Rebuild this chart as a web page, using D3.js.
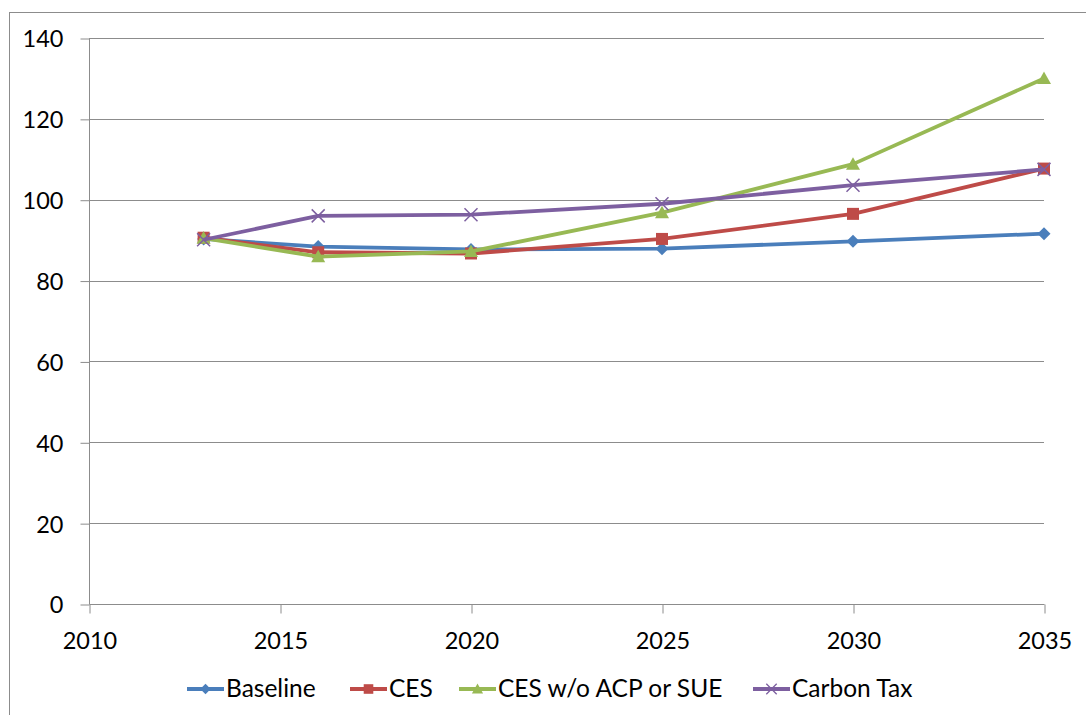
<!DOCTYPE html>
<html><head><meta charset="utf-8">
<script src="https://cdn.jsdelivr.net/npm/d3@7"></script>
<style>body{margin:0;background:#fff}svg{display:block}text{font-family:Lato,"Open Sans",sans-serif;fill:#000}</style>
</head><body>
<script>
const years = [2013, 2016, 2020, 2025, 2030, 2035];
const seriesNames = ["Baseline", "CES", "CES w/o ACP or SUE", "Carbon Tax"];
const baseline = [90.3, 88.4, 87.7, 87.9, 89.7, 91.6];
const ces = [90.6, 87.0, 86.7, 90.3, 96.5, 107.7];
const cesNoAcp = [90.5, 85.9, 87.2, 96.8, 108.8, 130.0];
const carbonTax = [90.1, 96.0, 96.3, 99.0, 103.6, 107.5];
const xTicks = [2010, 2015, 2020, 2025, 2030, 2035];
const yTicks = [0, 20, 40, 60, 80, 100, 120, 140];
const colors = ["#4A7EBB", "#BE4B48", "#98B954", "#7D5FA0"];
const markers = ["diamond", "square", "triangle", "x"];
const seriesValues = [baseline, ces, cesNoAcp, carbonTax];

const W = 1086, H = 715;
const svg = d3.select("body").append("svg").attr("width", W).attr("height", H);
svg.append("rect").attr("x", 9.5).attr("y", 12.5).attr("width", 1100).attr("height", 750)
  .attr("fill", "none").attr("stroke", "#8c8c8c").attr("stroke-width", 1);

const x = d3.scaleLinear().domain([2010, 2035]).range([89, 1044]);
const y = d3.scaleLinear().domain([0, 140]).range([604, 38]);

// gridlines
svg.append("g").selectAll("line").data(yTicks.filter(d => d > 0)).join("line")
  .attr("x1", x(2010)).attr("x2", x(2035))
  .attr("y1", d => Math.round(y(d)) + 0.5).attr("y2", d => Math.round(y(d)) + 0.5)
  .attr("stroke", "#8c8c8c").attr("stroke-width", 1);

const yAxis = d3.axisLeft(y).tickValues(yTicks).tickSize(9).tickPadding(17).tickFormat(d3.format("d"));
const gy = svg.append("g").attr("transform", `translate(${x(2010)+0.5},0.5)`).call(yAxis);
const xAxis = d3.axisBottom(x).tickValues(xTicks).tickSize(9).tickPadding(12).tickFormat(d3.format("d"));
const gx = svg.append("g").attr("transform", `translate(0.5,${y(0)+0.5})`).call(xAxis);
[gy, gx].forEach(g => {
  g.select(".domain").attr("stroke", "#8c8c8c");
  g.selectAll(".tick line").attr("stroke", "#8c8c8c");
  g.selectAll(".tick text").style("font-size", "23.5px").style("font-family", "Lato, 'Open Sans', sans-serif").attr("fill", "#000");
});
gy.select(".domain").attr("d", `M0,${y(140)}V${y(0)}`);
gx.select(".domain").attr("d", `M${x(2010)},0H${x(2035)}`);
gy.selectAll(".tick text").attr("dy", "0.36em");
gx.selectAll(".tick text").attr("y", 44).attr("dy", "0");

function markerPath(type, s) {
  if (type === "diamond") return `M0,${-s}L${s},0L0,${s}L${-s},0Z`;
  if (type === "square") return `M${-s},${-s}H${s}V${s}H${-s}Z`;
  if (type === "triangle") return `M0,${-s}L${s},${s*0.8}L${-s},${s*0.8}Z`;
  return `M${-s},${-s}L${s},${s}M${s},${-s}L${-s},${s}`;
}
const sizes = [6.5, 6, 7, 6.5];

const line = d3.line().x((d, i) => x(years[i])).y(d => y(d));
seriesValues.forEach((vals, k) => {
  const g = svg.append("g");
  g.append("path").datum(vals).attr("d", line).attr("fill", "none")
    .attr("stroke", colors[k]).attr("stroke-width", 3.8).attr("stroke-linejoin", "round");
  g.selectAll("path.m").data(vals).join("path").attr("class", "m")
    .attr("transform", (d, i) => `translate(${x(years[i])},${y(d)})`)
    .attr("d", markerPath(markers[k], sizes[k]))
    .attr("fill", markers[k] === "x" ? "none" : colors[k])
    .attr("stroke", colors[k]).attr("stroke-width", markers[k] === "x" ? 1.5 : 0);
});

// legend
const legendX = [187, 350, 459, 753];
const legendY = 689;
seriesNames.forEach((name, k) => {
  const g = svg.append("g").attr("transform", `translate(${legendX[k]},${legendY})`);
  g.append("line").attr("x1", 0).attr("x2", 37).attr("stroke", colors[k]).attr("stroke-width", 3.8);
  g.append("path").attr("transform", "translate(18.5,0)").attr("d", markerPath(markers[k], sizes[k]*0.8))
    .attr("fill", markers[k] === "x" ? "none" : colors[k]).attr("stroke", colors[k])
    .attr("stroke-width", markers[k] === "x" ? 1.3 : 0);
  g.append("text").attr("x", 39).attr("y", 8).style("font-size", "24.5px").text(name);
});
</script>
</body></html>
